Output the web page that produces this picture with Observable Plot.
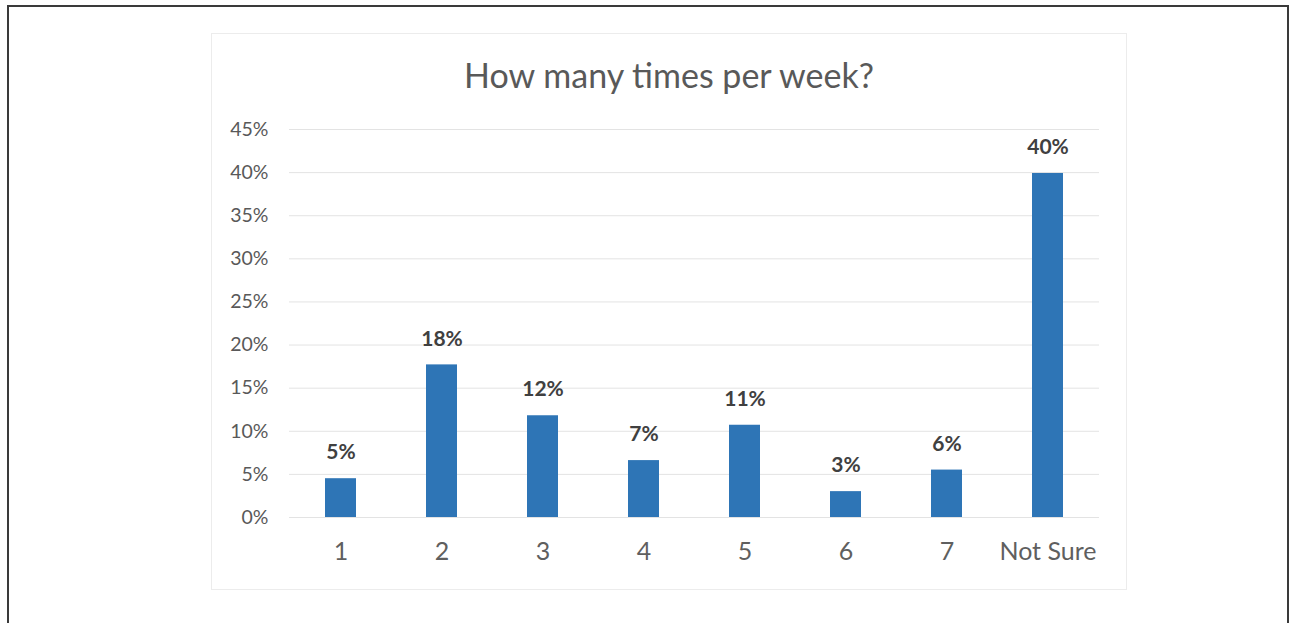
<!DOCTYPE html>
<html>
<head>
<meta charset="utf-8">
<script src="https://cdn.jsdelivr.net/npm/d3@7"></script>
<script src="https://cdn.jsdelivr.net/npm/@observablehq/plot@0.6"></script>
<style>
  html, body { margin: 0; padding: 0; background: #fff; }
  body { width: 1291px; height: 623px; position: relative; overflow: hidden; font-family: Lato, "Open Sans", sans-serif; }
  #outer { position: absolute; left: 7px; top: 5px; width: 1282px; height: 700px; border: 2px solid #3a3a3a; box-sizing: border-box; }
  #frame { position: absolute; left: 211px; top: 33px; width: 916px; height: 557px; border: 1px solid #ececec; box-sizing: border-box; }
  #title { position: absolute; left: 211px; width: 916px; top: 54px; text-align: center; font-size: 34px; color: #595959; line-height: 42px; }
  #chart { position: absolute; left: 0; top: 0; }
</style>
</head>
<body>
<div id="outer"></div>
<div id="frame"></div>
<div id="chart"></div>
<div id="title">How many times per week?</div>
<script>
const categories = ["1", "2", "3", "4", "5", "6", "7", "Not Sure"];
const values = [4.5, 17.7, 11.8, 6.6, 10.7, 3.0, 5.5, 39.9];
const valueLabels = ["5%", "18%", "12%", "7%", "11%", "3%", "6%", "40%"];
const yTicks = [0, 5, 10, 15, 20, 25, 30, 35, 40, 45];

const data = categories.map((c, i) => ({category: c, value: values[i], label: valueLabels[i]}));

const chart = Plot.plot({
  width: 1291,
  height: 623,
  marginLeft: 289,
  marginRight: 192,
  marginTop: 129,
  marginBottom: 106,
  style: {fontFamily: "Lato, 'Open Sans', sans-serif", background: "transparent", overflow: "visible"},
  x: {type: "band", domain: categories, paddingInner: 0.69, paddingOuter: 0.345, label: null},
  y: {domain: [0, 45], label: null},
  marks: [
    Plot.gridY(yTicks, {stroke: "#e3e3e3", strokeOpacity: 1, strokeWidth: 1}),
    Plot.axisY({ticks: yTicks, tickFormat: d => d + "%", tickSize: 0, tickPadding: 21, fontSize: 19.5, fill: "#595959", label: null}),
    Plot.axisX({tickSize: 0, tickPadding: 25, fontSize: 25, fill: "#5f5f5f", label: null}),
    Plot.barY(data, {x: "category", y: "value", fill: "#2e75b6"}),
    Plot.text(data, {x: "category", y: "value", text: "label", dy: -26, fontSize: 21, fontWeight: "bold", fill: "#404040", lineAnchor: "middle"})
  ]
});
document.getElementById("chart").appendChild(chart);
</script>
</body>
</html>
